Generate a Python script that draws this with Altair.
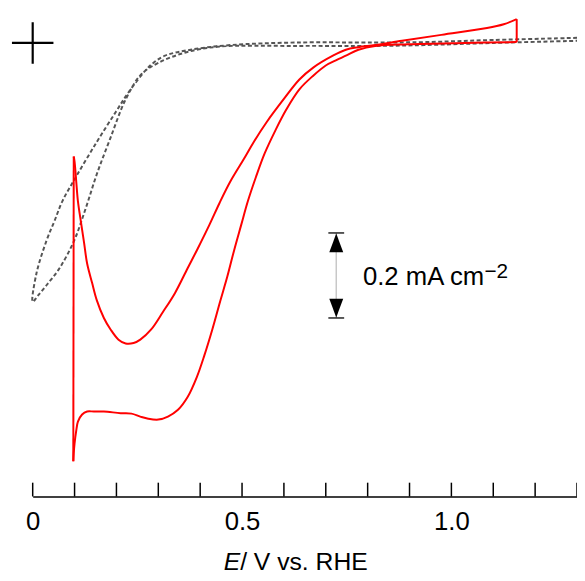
import altair as alt
import pandas as pd

# ---- data (E in V vs. RHE, j in mA cm^-2, zero at the "+" mark) ----
gray_E = [1.300, 1.101, 0.936, 0.818, 0.630, 0.472, 0.377, 0.316, 0.288, 0.269, 0.229, 0.198,
          0.153, 0.104, 0.071, 0.052, 0.033, 0.009, 0.000,
          0.012, 0.033, 0.064, 0.099, 0.127, 0.153, 0.184, 0.222, 0.259, 0.300, 0.363, 0.441,
          0.630, 0.818, 0.936, 1.101, 1.300]
gray_j = [0.012, 0.007, 0.002, 0.001, 0.001, -0.005, -0.016, -0.030, -0.047, -0.065, -0.116, -0.163,
          -0.233, -0.314, -0.372, -0.419, -0.465, -0.542, -0.609,
          -0.595, -0.570, -0.530, -0.465, -0.388, -0.309, -0.228, -0.133, -0.074, -0.047, -0.023, -0.009,
          -0.007, -0.007, -0.005, 0.000, 0.005]

# red CV in four pieces
step_hi_E = [1.156, 1.156]
step_hi_j = [0.056, 0.002]

cathodic_E = [1.156, 1.031, 0.896, 0.818, 0.778, 0.748, 0.724, 0.700, 0.670, 0.637, 0.606,
              0.580, 0.554, 0.533, 0.514, 0.498, 0.481, 0.465, 0.448, 0.429, 0.410, 0.392, 0.370,
              0.347, 0.323, 0.300, 0.276, 0.257, 0.236, 0.210, 0.170, 0.146, 0.130, 0.118, 0.108,
              0.104, 0.100, 0.098, 0.097]
cathodic_j = [0.002, 0.000, -0.003, -0.007, -0.016, -0.030, -0.041, -0.053, -0.077, -0.109, -0.156,
              -0.205, -0.260, -0.316, -0.372, -0.428, -0.488, -0.549, -0.607, -0.674, -0.735, -0.786, -0.833,
              -0.863, -0.879, -0.886, -0.884, -0.879, -0.872, -0.871, -0.867, -0.867, -0.867, -0.874, -0.891,
              -0.912, -0.942, -0.965, -0.984]

step_lo_E = [0.097, 0.098]
step_lo_j = [-0.984, -0.267]

anodic_E = [0.098, 0.100, 0.104, 0.108, 0.116, 0.123, 0.130, 0.142, 0.153, 0.170, 0.186, 0.205,
            0.222, 0.241, 0.257, 0.283, 0.311, 0.340, 0.370, 0.394, 0.422, 0.446, 0.472, 0.505,
            0.528, 0.559, 0.599, 0.637, 0.670, 0.717, 0.748, 0.778, 0.818, 0.882, 0.976, 1.085,
            1.125, 1.156]
anodic_j = [-0.267, -0.279, -0.326, -0.372, -0.426, -0.472, -0.519, -0.565, -0.605, -0.647, -0.674, -0.698,
            -0.707, -0.706, -0.698, -0.674, -0.633, -0.588, -0.530, -0.484, -0.428, -0.377, -0.326, -0.272,
            -0.233, -0.186, -0.133, -0.086, -0.058, -0.030, -0.016, -0.010, -0.005, 0.005, 0.019, 0.035,
            0.044, 0.056]

tick_values = [0.0, 0.1, 0.2, 0.3, 0.4, 0.5, 0.6, 0.7, 0.8, 0.9, 1.0, 1.1, 1.2, 1.3]
label_values = [0.0, 0.5, 1.0]

origin_E = [0.0]
origin_j = [0.0]

scale_E = [0.725]
scale_top = [-0.447]
scale_bottom = [-0.647]
scale_label = ["0.2 mA cm"]
scale_sup = ["\u22122"]

title_italic = ["E"]
title_rest = ["/ V vs. RHE"]

FONT = "Liberation Sans"
W, H = 551, 491

gray_df = pd.DataFrame({"E": gray_E, "j": gray_j, "i": range(len(gray_E))})

pieces = [(step_hi_E, step_hi_j), (cathodic_E, cathodic_j), (step_lo_E, step_lo_j), (anodic_E, anodic_j)]
rows = []
n = 0
for s, (es, js) in enumerate(pieces):
    for e, jv in zip(es, js):
        rows.append({"E": e, "j": jv, "seg": s, "i": n})
        n += 1
red_df = pd.DataFrame(rows)

tick_df = pd.DataFrame({"E": tick_values})
origin_df = pd.DataFrame({"E": origin_E, "j": origin_j})
scale_df = pd.DataFrame({"E": scale_E, "top": scale_top, "bottom": scale_bottom,
                         "mid": [(a + b) / 2 for a, b in zip(scale_top, scale_bottom)],
                         "label": scale_label, "sup": scale_sup})
title_df = pd.DataFrame({"a": title_italic, "b": title_rest})

xscale = alt.Scale(domain=[0, 1.3], nice=False, zero=False)
yscale = alt.Scale(domain=[-1.067, 0.074], nice=False, zero=False)

xaxis = alt.Axis(values=label_values, ticks=False, grid=False, domain=True, domainColor="black",
                 domainWidth=1.5, labelFontSize=26, labelColor="black", labelFont=FONT,
                 labelPadding=12, title=None, labelFlush=False, labelOverlap=False,
                 labelExpr="datum.value == 0 ? '0' : format(datum.value, '.1f')")


def X(field="E"):
    return alt.X(f"{field}:Q", scale=xscale, axis=xaxis)


def Y(field):
    return alt.Y(f"{field}:Q", scale=yscale, axis=None)


gray = alt.Chart(gray_df).mark_line(
    color="#555555", strokeWidth=2, strokeDash=[4, 2.5], interpolate="catmull-rom"
).encode(x=X(), y=Y("j"), order="i:Q")

red = alt.Chart(red_df).mark_line(
    color="#ff0000", strokeWidth=2, interpolate="catmull-rom"
).encode(x=X(), y=Y("j"), detail="seg:N", order="i:Q")

ticks = alt.Chart(tick_df).mark_rule(color="black", strokeWidth=1.5).encode(
    x=X(), y=alt.value(H - 14), y2=alt.value(H),
)

plus = alt.Chart(origin_df).mark_point(
    shape="M-1,0L1,0M0,-1L0,1", size=42 * 42, color="black", strokeWidth=2.2, opacity=1
).encode(x=X(), y=Y("j"))

bar_line = alt.Chart(scale_df).mark_rule(color="#c8c8c8", strokeWidth=1.5).encode(
    x=X(), y=Y("top"), y2="bottom:Q")

cap_top = alt.Chart(scale_df).mark_point(
    shape="M-1,0L1,0", size=16 * 16, color="black", strokeWidth=1.3, opacity=1
).encode(x=X(), y=Y("top"))
cap_bot = alt.Chart(scale_df).mark_point(
    shape="M-1,0L1,0", size=16 * 16, color="black", strokeWidth=1.3, opacity=1
).encode(x=X(), y=Y("bottom"))

arrow_up = alt.Chart(scale_df).mark_point(
    shape="M0,-1L0.74,1L-0.74,1Z", size=19 * 19, filled=True, color="black", opacity=1, yOffset=10
).encode(x=X(), y=Y("top"))
arrow_down = alt.Chart(scale_df).mark_point(
    shape="M0,1L0.74,-1L-0.74,-1Z", size=19 * 19, filled=True, color="black", opacity=1, yOffset=-10
).encode(x=X(), y=Y("bottom"))

bar_text = alt.Chart(scale_df).mark_text(
    align="left", baseline="alphabetic", dx=27, dy=10, fontSize=26, font=FONT, color="black"
).encode(x=X(), y=Y("mid"), text="label:N")
bar_sup = alt.Chart(scale_df).mark_text(
    align="left", baseline="alphabetic", dx=150, dy=3, fontSize=21, font=FONT, color="black"
).encode(x=X(), y=Y("mid"), text="sup:N")

t1 = alt.Chart(title_df).mark_text(
    align="right", baseline="alphabetic", fontSize=25, font=FONT, fontStyle="italic", color="black"
).encode(x=alt.value(210), y=alt.value(565), text="a:N")
t2 = alt.Chart(title_df).mark_text(
    align="left", baseline="alphabetic", fontSize=25, font=FONT, color="black"
).encode(x=alt.value(210), y=alt.value(565), text="b:N")

chart = alt.layer(
    gray, red, ticks, plus, bar_line, arrow_up, arrow_down, cap_top, cap_bot, bar_text, bar_sup, t1, t2
).properties(
    width=W, height=H,
    background="white",
    autosize=alt.AutoSizeParams(type="none"),
    padding={"left": 25, "top": 0, "right": 0, "bottom": 82},
).configure_view(stroke=None)

chart.save("out.html", embed_options={"renderer": "svg", "actions": False})
